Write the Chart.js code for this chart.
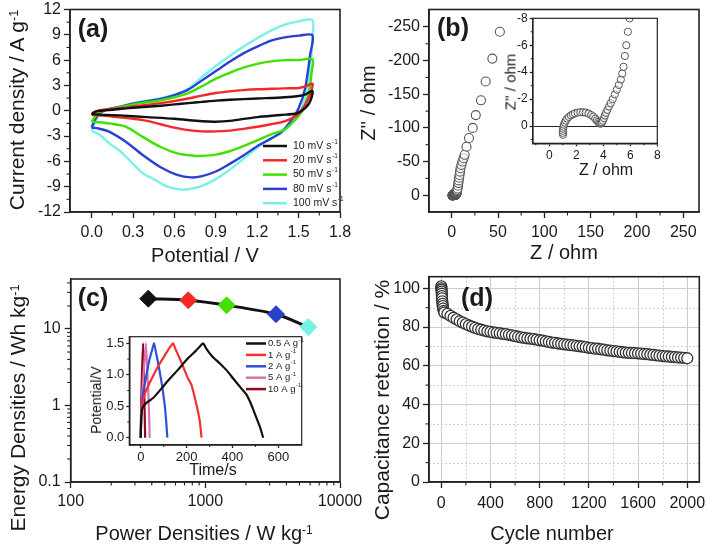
<!DOCTYPE html>
<html><head><meta charset="utf-8">
<script src="https://cdn.jsdelivr.net/npm/chart.js@4.4.1/dist/chart.umd.min.js"></script>
<style>
html,body{margin:0;padding:0;background:#fff;}
#wrap{position:relative;width:709px;height:549px;overflow:hidden;background:#fff;}
#wrap canvas{position:absolute;left:0;top:0;}
.t{position:absolute;white-space:nowrap;color:#1a1a1a;font-family:"Liberation Sans",Arial,Helvetica,sans-serif;line-height:1;transform:translate(-50%,-50%);}
.r{transform:translate(-50%,-50%) rotate(-90deg);}
.p{font-weight:bold;font-size:25px;}
sup{font-size:60%;position:relative;top:-0.5em;vertical-align:baseline;}
</style></head><body>
<div id="wrap">
<canvas id="cA" width="709" height="549"></canvas>
<canvas id="cB" width="709" height="549"></canvas>
<canvas id="cC" width="709" height="549"></canvas>
<canvas id="cD" width="709" height="549"></canvas>
<canvas id="cBi" width="709" height="549"></canvas>
<canvas id="cCi" width="709" height="549"></canvas>

<div class="t p" style="left:93px;top:28px">(a)</div>
<div class="t p" style="left:453px;top:27px">(b)</div>
<div class="t p" style="left:93px;top:297px">(c)</div>
<div class="t p" style="left:477px;top:297px">(d)</div>

<div class="t r" style="left:16px;top:110px;font-size:21px">Current density / A g<sup>-1</sup></div>
<div class="t" style="left:205px;top:255px;font-size:20px">Potential / V</div>
<div class="t r" style="left:368px;top:103px;font-size:20px">Z'' / ohm</div>
<div class="t" style="left:564px;top:252px;font-size:20px">Z / ohm</div>
<div class="t r" style="left:510px;top:82px;font-size:15px">Z'' / ohm</div>
<div class="t" style="left:606px;top:170px;font-size:16px">Z / ohm</div>
<div class="t r" style="left:17px;top:408px;font-size:21px">Energy Densities / Wh kg<sup>-1</sup></div>
<div class="t" style="left:204px;top:533px;font-size:20px">Power Densities / W kg<sup>-1</sup></div>
<div class="t r" style="left:96px;top:400px;font-size:14px">Potential/V</div>
<div class="t" style="left:213px;top:470px;font-size:16px">Time/s</div>
<div class="t r" style="left:381px;top:400px;font-size:21px">Capacitance retention / %</div>
<div class="t" style="left:552px;top:533px;font-size:20px">Cycle number</div>
</div>
<script>
// ================= DATA =================
// (a) cyclic voltammetry loops: potential (V) and current density (A/g)
const cvLabels = ['10 mV s⁻¹','20 mV s⁻¹','50 mV s⁻¹','80 mV s⁻¹','100 mV s⁻¹'];
const cv10V = [0,0.02,0.06,0.1,0.2,0.3,0.5,0.6,0.7,0.8,0.9,1.0,1.2,1.4,1.5,1.55,1.6,1.583,1.547,1.49,1.37,1.2,1.0,0.9,0.8,0.6,0.4,0.2,0.1,0];
const cv10I = [-0.4,-0.15,0,0.05,0.2,0.35,0.6,0.75,0.9,1.05,1.2,1.3,1.45,1.6,1.75,1.95,2.35,1.1,0.3,-0.3,-0.5,-0.75,-1.2,-1.3,-1.25,-0.95,-0.75,-0.55,-0.5,-0.4];
const cv20V = [0,0.02,0.06,0.1,0.2,0.3,0.5,0.6,0.7,0.8,0.9,1.0,1.1,1.2,1.3,1.4,1.5,1.55,1.6,1.6,1.583,1.547,1.49,1.39,1.3,1.2,1.1,1.0,0.9,0.8,0.7,0.6,0.5,0.4,0.3,0.2,0.1,0.03,0];
const cv20I = [-0.5,-0.15,0.05,0.15,0.3,0.5,0.9,1.15,1.45,1.8,2.1,2.3,2.45,2.55,2.6,2.65,2.7,2.9,3.2,2.85,1.9,0.7,-0.5,-1.3,-1.6,-1.9,-2.15,-2.35,-2.45,-2.45,-2.3,-2.0,-1.6,-1.2,-0.95,-0.78,-0.6,-0.52,-0.5];
const cv50V = [0,0.02,0.05,0.1,0.2,0.3,0.5,0.6,0.7,0.8,0.9,1.0,1.1,1.2,1.3,1.4,1.5,1.6,1.595,1.571,1.523,1.46,1.39,1.3,1.2,1.1,1.0,0.9,0.8,0.74,0.62,0.5,0.37,0.25,0.13,0.05,0];
const cv50I = [-1.3,-0.8,-0.2,0.1,0.4,0.75,1.25,1.6,2.1,2.9,3.8,4.5,5.1,5.55,5.85,6.0,6.0,6.1,4.6,1.9,-0.1,-1.3,-2.3,-2.8,-3.5,-4.2,-4.8,-5.2,-5.35,-5.33,-5.05,-4.3,-3.1,-1.9,-1.5,-1.35,-1.3];
const cv80V = [0,0.02,0.05,0.1,0.2,0.3,0.5,0.6,0.7,0.8,0.9,1.0,1.1,1.2,1.3,1.4,1.5,1.6,1.583,1.547,1.5,1.44,1.37,1.3,1.2,1.1,1.0,0.9,0.8,0.72,0.62,0.5,0.37,0.25,0.13,0.05,0];
const cv80I = [-2.0,-1.2,-0.4,0.1,0.45,0.85,1.4,1.85,2.5,3.6,4.7,5.8,6.8,7.6,8.3,8.7,8.9,8.95,6.6,2.65,0.3,-1.3,-2.6,-3.3,-4.2,-5.3,-6.3,-7.2,-7.75,-7.9,-7.6,-6.7,-5.25,-3.7,-2.5,-2.1,-2.0];
const cv100V = [0,0.02,0.05,0.1,0.2,0.3,0.5,0.6,0.7,0.8,0.9,1.0,1.1,1.2,1.3,1.4,1.5,1.6,1.6,1.583,1.547,1.5,1.44,1.37,1.3,1.2,1.1,1.0,0.9,0.8,0.7,0.64,0.55,0.45,0.37,0.3,0.25,0.2,0.13,0.07,0.03,0];
const cv100I = [-2.4,-1.6,-0.6,0.05,0.45,0.9,1.5,1.9,2.6,4.0,5.3,6.5,7.6,8.6,9.5,10.2,10.6,10.75,8.6,4.6,1.5,-0.5,-1.7,-2.7,-3.3,-4.4,-5.7,-7.0,-8.1,-8.9,-9.3,-9.33,-9.0,-8.1,-7.4,-6.3,-5.45,-4.7,-3.9,-3.0,-2.6,-2.4];
const cvColors = ['#111111','#f52828','#40e000','#2b40d0','#7af0ea'];

// (b) Nyquist plot: Z' (ohm) and Z'' (ohm)
const zRe = [1.02,1.0,1.0,1.02,1.05,1.08,1.15,1.22,1.32,1.45,1.6,1.75,1.9,2.1,2.3,2.5,2.7,2.9,3.1,3.25,3.4,3.52,3.62,3.7,3.78,3.85,3.9,3.97,4.05,4.12,4.2,4.3,4.42,4.55,4.7,4.85,5.0,5.15,5.3,5.4,5.5,5.6,5.7,5.82,5.95,6.3,6.8,7.2,7.6,8.0,8.5,9.0,9.5,10.5,11.5,12.8,14.0,16.0,18.7,22.7,26.0,31.6,36.7,43.9,52.0];
const zIm = [0.65,0.5,0.35,0.2,0.05,-0.1,-0.25,-0.4,-0.55,-0.68,-0.8,-0.88,-0.95,-1.0,-1.03,-1.03,-1.0,-0.93,-0.82,-0.7,-0.55,-0.42,-0.3,-0.22,-0.18,-0.2,-0.28,-0.4,-0.58,-0.78,-0.98,-1.2,-1.45,-1.7,-2.0,-2.35,-2.7,-3.05,-3.45,-3.9,-4.4,-5.2,-6.0,-7.0,-8.0,-10,-14,-18,-22,-26,-30,-35,-40,-45,-50,-55,-60,-72,-85,-100,-119,-141,-169,-203,-243];

// (c) Ragone plot
const powerDens = [377,747,1439,3350,5820];
const energyDens = [24.9,23.7,20.4,15.6,10.6];
const ragoneColors = ['#111111','#f52828','#44e000','#2b40c8','#74f2e2'];

// (c inset) galvanostatic charge/discharge: time (s) and potential (V)
const gcdLabels = ['0.5 A g⁻¹','1 A g⁻¹','2 A g⁻¹','5 A g⁻¹','10 A g⁻¹'];
const gcd05T = [0,2,6,15,30,54,90,127,165,200,240,272,285,310,345,375,403,435,462,485,505,520,534];
const gcd05V = [0,0.3,0.45,0.52,0.57,0.63,0.78,0.94,1.09,1.24,1.38,1.5,1.42,1.3,1.18,1.07,0.94,0.8,0.68,0.5,0.31,0.17,0];
const gcd1T = [0,3,10,20,40,60,80,100,120,141,150,165,185,205,221,237,250,258,265];
const gcd1V = [0,0.45,0.6,0.72,0.88,1.03,1.16,1.28,1.4,1.5,1.42,1.3,1.13,0.95,0.84,0.62,0.41,0.25,0];
const gcd2T = [0,3,10,20,30,40,50,58,65,75,85,95,105,110,116];
const gcd2V = [0,0.5,0.7,0.9,1.1,1.27,1.4,1.5,1.38,1.2,1.0,0.78,0.5,0.3,0];
const gcd5T = [0,3,10,16,22,27,32,36,39];
const gcd5V = [0,0.5,0.9,1.2,1.5,1.2,0.8,0.4,0];
const gcd10T = [0,2,6,10,13,16,19];
const gcd10V = [0,0.6,1.1,1.5,1.1,0.6,0];
const gcdColors = ['#111111','#f23030','#2f50d8','#e070b0','#8a0c1c'];

// (d) cycling stability
const cycles = [0,1,2,3,4,5,6,8,10,12,15,20,25,50,75,100,125,150,175,200,225,250,275,300,325,350,375,400,425,450,475,500,525,550,575,600,625,650,675,700,725,750,775,800,825,850,875,900,925,950,975,1000,1025,1050,1075,1100,1125,1150,1175,1200,1225,1250,1275,1300,1325,1350,1375,1400,1425,1450,1475,1500,1525,1550,1575,1600,1625,1650,1675,1700,1725,1750,1775,1800,1825,1850,1875,1900,1925,1950,1975,2000];
const retention = [101,100,99.2,98.3,97.2,96,94.8,93.3,92,90.8,89.5,88.3,87.5,86.8,85.8,84.8,84.0,83.0,82.3,81.5,80.8,80.2,79.6,79.0,78.6,78.2,77.8,77.5,77.2,77.0,76.8,76.5,76.3,76.0,75.7,75.3,75.0,74.7,74.4,74.2,74.0,73.8,73.5,73.2,73.0,72.6,72.3,72.0,71.8,71.5,71.3,71.1,70.9,70.7,70.5,70.3,70.1,69.9,69.6,69.3,69.1,68.9,68.8,68.5,68.3,68.0,67.8,67.6,67.4,67.2,67.0,66.8,66.7,66.6,66.5,66.4,66.3,66.1,66.0,65.8,65.6,65.4,65.2,65.0,64.9,64.8,64.6,64.5,64.3,64.2,64.1,63.9];

// tick labels
const aTicksX = [0,0.3,0.6,0.9,1.2,1.5,1.8];
const aTicksY = [-12,-9,-6,-3,0,3,6,9,12];
const bTicksX = [0,50,100,150,200,250];
const bTicksY = [-250,-200,-150,-100,-50,0];
const biTicksX = [0,2,4,6,8];
const biTicksY = [-8,-6,-4,-2,0];
const cTicksX = [100,1000,10000];
const cTicksY = [0.1,1,10];
const ciTicksX = [0,200,400,600];
const ciTicksY = [0,0.5,1.0,1.5];
const dTicksX = [0,400,800,1200,1600,2000];
const dTicksY = [0,20,40,60,80,100];

// ================= RENDER =================
const W = 709, H = 549;
const FONT = '"Liberation Sans", Arial, Helvetica, sans-serif';
const pts = (xs, ys) => xs.map((v, i) => ({x: v, y: ys[i]}));
const mids = a => a.slice(0, -1).map((v, i) => (v + a[i + 1]) / 2);
const logMinor = (decs, lo, hi) => { const r = []; decs.forEach(d => { for (let k = 2; k <= 9; k++) { const v = k * d; if (v > lo && v < hi) r.push(v); } }); return r; };
function place(area, yW, xH) { return {padding: {left: area.l - yW, top: area.t, right: W - area.r, bottom: H - area.b - xH}}; }
function line(ctx, x1, y1, x2, y2) { ctx.beginPath(); ctx.moveTo(x1, y1); ctx.lineTo(x2, y2); ctx.stroke(); }

function mkAxis(o) {
  return {
    type: o.type || 'linear', min: o.min, max: o.max, reverse: !!o.reverse,
    afterBuildTicks: s => { s.ticks = o.ticks.map(v => ({value: v})); },
    afterFit: s => { if (s.isHorizontal()) s.height = o.size; else s.width = o.size; s.paddingLeft = 0; s.paddingRight = 0; s.paddingTop = 0; s.paddingBottom = 0; },
    ticks: {callback: o.fmt, font: {family: FONT, size: o.fs}, color: '#1a1a1a', padding: o.pad, maxRotation: 0, minRotation: 0, autoSkip: false},
    grid: {drawOnChartArea: !!o.gridColor, color: o.gridColor || 'rgba(0,0,0,0)', lineWidth: 1, drawTicks: true, tickLength: o.tl, tickColor: '#222', tickWidth: 1.3},
    border: {display: true, color: '#222', width: 1.5}
  };
}

const deco = {
  id: 'deco',
  beforeDatasetsDraw(chart, args, o) {
    if (!o || !o.grid) return;
    const {ctx, chartArea: a, scales} = chart, g = o.grid;
    ctx.save();
    ctx.lineWidth = 1; ctx.strokeStyle = g.color; ctx.setLineDash([2, 2]);
    g.x.forEach(v => { const x = Math.round(scales.x.getPixelForValue(v)) + 0.5; line(ctx, x, a.top, x, a.bottom); });
    g.y.forEach(v => { const y = Math.round(scales.y.getPixelForValue(v)) + 0.5; line(ctx, a.left, y, a.right, y); });
    ctx.restore();
  },
  afterDatasetsDraw(chart, args, o) {
    if (!o) return;
    const {ctx, chartArea: a, scales} = chart;
    ctx.save();
    if (o.frame) {
      ctx.strokeStyle = '#222'; ctx.lineWidth = o.frame;
      ctx.strokeRect(a.left, a.top, a.right - a.left, a.bottom - a.top);
    }
    if (o.minor) {
      const m = o.minor; ctx.strokeStyle = '#222'; ctx.lineWidth = 1.1;
      (m.x || []).forEach(v => { const x = scales.x.getPixelForValue(v); line(ctx, x, a.bottom, x, a.bottom + m.len); });
      (m.y || []).forEach(v => { const y = scales.y.getPixelForValue(v); line(ctx, a.left - m.len, y, a.left, y); });
    }
    if (o.legend) {
      const L = o.legend;
      ctx.textBaseline = 'middle'; ctx.textAlign = 'left';
      chart.data.datasets.forEach((ds, i) => {
        const y = L.y + i * L.dy;
        ctx.strokeStyle = ds.borderColor; ctx.lineWidth = L.lw; ctx.setLineDash([]);
        line(ctx, L.x, y, L.x + L.len, y);
        const parts = ds.label.split('⁻¹');
        ctx.fillStyle = '#1a1a1a'; ctx.font = L.fs + 'px ' + FONT;
        const tx = L.x + L.len + L.gap;
        ctx.fillText(parts[0], tx, y);
        if (parts.length > 1) {
          const w = ctx.measureText(parts[0]).width;
          ctx.font = (L.fs * 0.62) + 'px ' + FONT;
          ctx.fillText('-1', tx + w + 0.5, y - L.fs * 0.38);
        }
      });
    }
    ctx.restore();
  }
};
Chart.register(deco);

const base = {responsive: false, maintainAspectRatio: false, animation: false, events: [], devicePixelRatio: 1};
const noPlug = {legend: {display: false}, tooltip: {enabled: false}};

// ---------- (a) ----------
const areaA = {l: 70, t: 9.5, r: 340, b: 212};
const cvV = [cv10V, cv20V, cv50V, cv80V, cv100V], cvI = [cv10I, cv20I, cv50I, cv80I, cv100I];
new Chart(document.getElementById('cA'), {
  type: 'scatter',
  data: {datasets: cvLabels.map((lab, i) => ({label: lab, data: pts(cvV[i], cvI[i]), showLine: true, borderColor: cvColors[i], backgroundColor: cvColors[i], borderWidth: 2.4, pointRadius: 0, tension: 0.3, order: i}))},
  options: Object.assign({}, base, {
    layout: place(areaA, 50, 40),
    scales: {
      x: mkAxis({min: -0.157, max: 1.8, ticks: aTicksX, fmt: v => v.toFixed(1), fs: 16, pad: 5, tl: 6, size: 40}),
      y: mkAxis({min: -12, max: 12, ticks: aTicksY, fmt: v => String(v), fs: 16, pad: 3, tl: 6, size: 50})
    },
    plugins: Object.assign({}, noPlug, {deco: {frame: 1.6, minor: {x: mids(aTicksX), y: mids(aTicksY), len: 3.5},
      legend: {x: 263, y: 146, dy: 14.3, len: 24, gap: 6, lw: 2.5, fs: 10.5}}})
  })
});

// ---------- (b) ----------
const areaB = {l: 429, t: 9.5, r: 699, b: 212};
const nyq = pts(zRe, zIm);
new Chart(document.getElementById('cB'), {
  type: 'scatter',
  data: {datasets: [{label: 'EIS', data: nyq, pointRadius: 4.5, pointBorderWidth: 1.1, pointBorderColor: '#555', pointBackgroundColor: 'rgba(255,255,255,0.6)'}]},
  options: Object.assign({}, base, {
    layout: place(areaB, 50, 40),
    scales: {
      x: mkAxis({min: -24.5, max: 267, ticks: bTicksX, fmt: v => String(v), fs: 16, pad: 5, tl: 6, size: 40}),
      y: mkAxis({min: -276, max: 25, reverse: true, ticks: bTicksY, fmt: v => String(v), fs: 16, pad: 3, tl: 6, size: 50})
    },
    plugins: Object.assign({}, noPlug, {deco: {frame: 1.6, minor: {x: mids(bTicksX), y: mids(bTicksY), len: 3.5}}})
  })
});

// ---------- (b inset) ----------
const areaBi = {l: 532.7, t: 18.3, r: 657.3, b: 143.3};
new Chart(document.getElementById('cBi'), {
  type: 'scatter',
  data: {datasets: [{label: 'EIS zoom', data: nyq, pointRadius: 3.6, pointBorderWidth: 1, pointBorderColor: '#555', pointBackgroundColor: 'rgba(255,255,255,0.5)'}]},
  options: Object.assign({}, base, {
    layout: place(areaBi, 30, 20),
    scales: {
      x: mkAxis({min: -1.23, max: 8, ticks: biTicksX, fmt: v => String(v), fs: 12, pad: 2, tl: 3, size: 20}),
      y: mkAxis({min: -8, max: 1.28, reverse: true, ticks: biTicksY, fmt: v => String(v), fs: 12, pad: 2, tl: 3, size: 30,
        gridColor: c => (c.tick && c.tick.value === 0) ? '#222' : 'rgba(0,0,0,0)'})
    },
    plugins: Object.assign({}, noPlug, {deco: {frame: 1.2, minor: {x: [-1, 1, 3, 5, 7], y: [-7, -5, -3, -1, 1], len: 2}}})
  })
});

// ---------- (c) ----------
const areaC = {l: 70.7, t: 279, r: 340, b: 482};
new Chart(document.getElementById('cC'), {
  type: 'scatter',
  data: {datasets: [{label: 'Ragone', data: pts(powerDens, energyDens), showLine: true, borderColor: '#111', borderWidth: 3, tension: 0.3,
    pointStyle: 'rectRot', pointRadius: 8.5, pointBorderWidth: 1, pointBackgroundColor: ragoneColors, pointBorderColor: ragoneColors}]},
  options: Object.assign({}, base, {
    layout: place(areaC, 50, 40),
    scales: {
      x: mkAxis({type: 'logarithmic', min: 100, max: 10000, ticks: cTicksX, fmt: v => String(v), fs: 16, pad: 4, tl: 6, size: 40}),
      y: mkAxis({type: 'logarithmic', min: 0.1, max: 45, ticks: cTicksY, fmt: v => String(v), fs: 16, pad: 4, tl: 6, size: 50})
    },
    plugins: Object.assign({}, noPlug, {deco: {frame: 1.6, minor: {x: logMinor([100, 1000], 100, 10000), y: logMinor([0.1, 1, 10], 0.1, 45), len: 3.5}}})
  })
});

// ---------- (c inset) ----------
const areaCi = {l: 129.3, t: 336.7, r: 301.7, b: 445};
const gT = [gcd05T, gcd1T, gcd2T, gcd5T, gcd10T], gV = [gcd05V, gcd1V, gcd2V, gcd5V, gcd10V];
new Chart(document.getElementById('cCi'), {
  type: 'scatter',
  data: {datasets: gcdLabels.map((lab, i) => ({label: lab, data: pts(gT[i], gV[i]), showLine: true, borderColor: gcdColors[i], backgroundColor: gcdColors[i], borderWidth: 2.2, pointRadius: 0, tension: 0.15}))},
  options: Object.assign({}, base, {
    layout: place(areaCi, 30, 20),
    scales: {
      x: mkAxis({min: -50, max: 702, ticks: ciTicksX, fmt: v => String(v), fs: 13, pad: 2, tl: 3, size: 20}),
      y: mkAxis({min: -0.116, max: 1.605, ticks: ciTicksY, fmt: v => v.toFixed(1), fs: 13, pad: 2, tl: 3, size: 30})
    },
    plugins: Object.assign({}, noPlug, {deco: {frame: 1.2, minor: {x: [100, 300, 500], y: [0.25, 0.75, 1.25], len: 2},
      legend: {x: 246, y: 343.5, dy: 11.4, len: 20, gap: 2, lw: 2.5, fs: 9.5}}})
  })
});

// ---------- (d) ----------
const areaD = {l: 429, t: 276.7, r: 699.3, b: 482};
new Chart(document.getElementById('cD'), {
  type: 'scatter',
  data: {datasets: [{label: 'Retention', data: pts(cycles, retention), pointRadius: 5.5, pointBorderWidth: 1.3, pointBorderColor: '#333', pointBackgroundColor: '#fff'}]},
  options: Object.assign({}, base, {
    layout: place(areaD, 50, 40),
    scales: {
      x: mkAxis({min: -100, max: 2098, ticks: dTicksX, fmt: v => String(v), fs: 16, pad: 6, tl: 6, size: 40, gridColor: '#c3d0d8'}),
      y: mkAxis({min: 0, max: 106, ticks: dTicksY, fmt: v => String(v), fs: 16, pad: 3, tl: 6, size: 50, gridColor: '#c3d0d8'})
    },
    plugins: Object.assign({}, noPlug, {deco: {frame: 1.6, grid: {x: mids(dTicksX), y: mids(dTicksY), color: '#c8d2da'},
      minor: {x: mids(dTicksX), y: mids(dTicksY), len: 3.5}}})
  })
});
</script>
</body></html>
